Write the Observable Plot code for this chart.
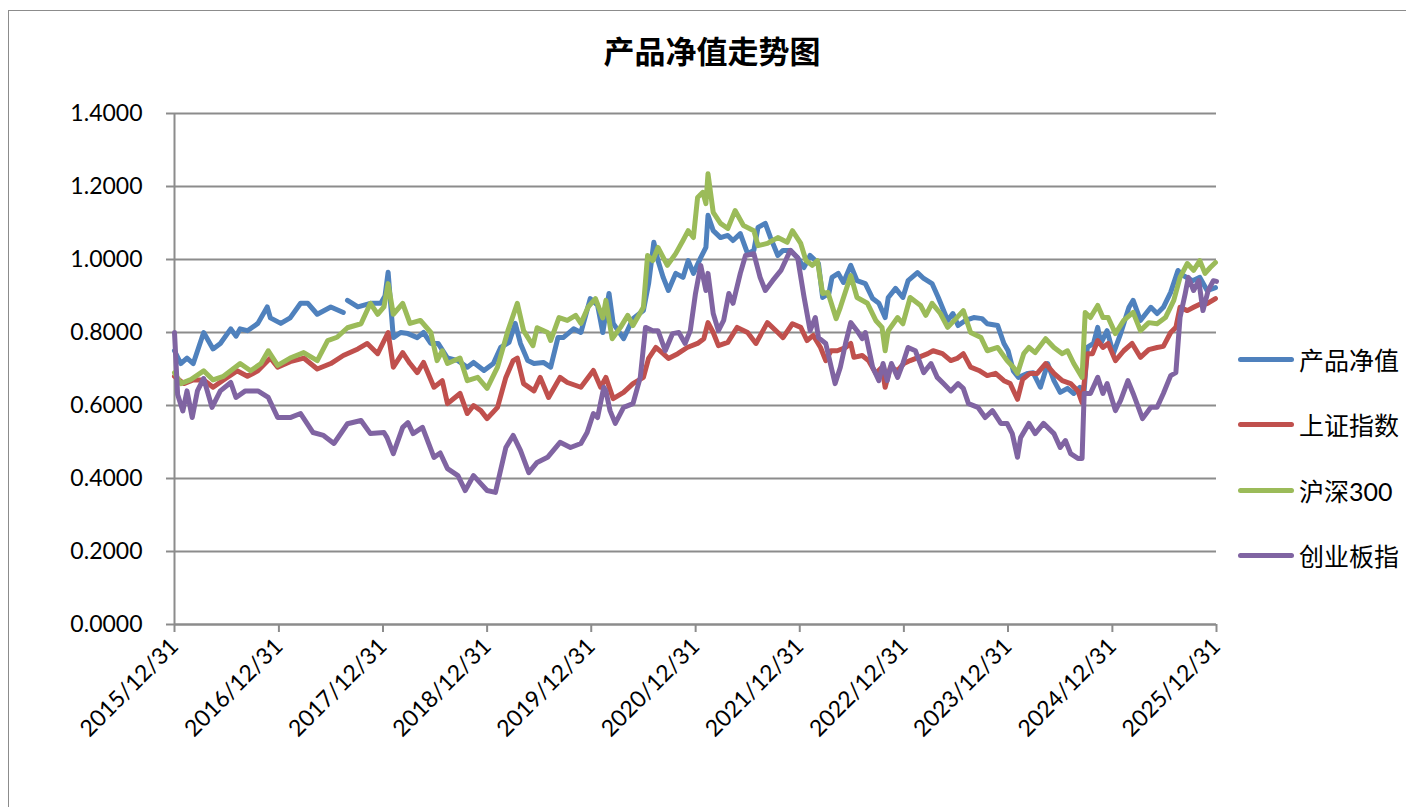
<!DOCTYPE html>
<html>
<head>
<meta charset="utf-8">
<script src="https://cdn.jsdelivr.net/npm/d3@7"></script>
<script src="https://cdn.jsdelivr.net/npm/@observablehq/plot@0.6"></script>
<style>
  html, body { margin: 0; padding: 0; background: #fff; overflow: hidden; }
  #wrap { position: relative; width: 1406px; height: 807px; overflow: hidden; }
  #frame { position: absolute; left: 8px; top: 10px; width: 1500px; height: 900px; border: 1.5px solid #8c8c8c; box-sizing: border-box; }
  #title { position: absolute; left: 0; top: 30px; width: 1424px; text-align: center; font-family: "Noto Sans CJK SC", sans-serif; font-size: 31px; font-weight: 700; color: #000; line-height: 40px; }
  #chart { position: absolute; left: 0; top: 0; }
  .legend { position: absolute; left: 1238px; font-family: Lato, "Noto Sans CJK SC", sans-serif; font-size: 25px; color: #000; }
  .item { position: absolute; left: 0; height: 36px; display: flex; align-items: center; white-space: nowrap; }
  .sw { width: 56px; height: 5px; border-radius: 3px; margin-right: 5px; }
</style>
</head>
<body>
<div id="wrap">
  <div id="frame"></div>
  <div id="chart"></div>
  <div id="title"></div>
  <div class="legend" id="legend"></div>
</div>
<script>
// ---- data (time as decimal year, 2016.00 = 2015/12/31, 2026.00 = 2025/12/31) ----
const title = "产品净值走势图";
const seriesNames = ["产品净值", "上证指数", "沪深300", "创业板指"];
const seriesColors = ["#4F81BD", "#C0504D", "#9BBB59", "#8064A2"];
const yTickValues = [0, 0.2, 0.4, 0.6, 0.8, 1.0, 1.2, 1.4];
const xTickYears = [2015, 2016, 2017, 2018, 2019, 2020, 2021, 2022, 2023, 2024, 2025];

const nav = [
[2016.00,0.75],[2016.06,0.715],[2016.12,0.73],[2016.18,0.715],[2016.28,0.80],[2016.37,0.755],[2016.44,0.77],[2016.54,0.81],[2016.59,0.79],[2016.63,0.81],[2016.70,0.805],[2016.80,0.825],[2016.89,0.87],[2016.92,0.84],[2017.02,0.825],[2017.11,0.84],[2017.21,0.88],[2017.28,0.88],[2017.37,0.85],[2017.50,0.87],[2017.62,0.855],[2017.64,null],[2017.66,0.888],[2017.76,0.87],[2017.88,0.88],[2017.98,0.88],[2018.02,0.90],[2018.05,0.965],[2018.10,0.786],[2018.17,0.80],[2018.24,0.797],[2018.33,0.786],[2018.39,0.80],[2018.46,0.77],[2018.53,0.77],[2018.62,0.73],[2018.72,0.723],[2018.81,0.705],[2018.87,0.718],[2018.97,0.696],[2019.06,0.715],[2019.13,0.759],[2019.21,0.773],[2019.27,0.825],[2019.32,0.77],[2019.39,0.723],[2019.45,0.715],[2019.54,0.718],[2019.61,0.705],[2019.68,0.786],[2019.73,0.786],[2019.83,0.81],[2019.90,0.80],[2019.99,0.893],[2020.06,0.875],[2020.11,0.80],[2020.17,0.907],[2020.21,0.825],[2020.31,0.783],[2020.40,0.838],[2020.50,0.86],[2020.55,0.934],[2020.60,1.047],[2020.64,0.997],[2020.69,0.951],[2020.74,0.915],[2020.81,0.962],[2020.88,0.951],[2020.93,0.997],[2020.98,0.962],[2021.05,1.005],[2021.10,1.033],[2021.12,1.121],[2021.17,1.079],[2021.24,1.06],[2021.31,1.066],[2021.36,1.052],[2021.43,1.071],[2021.50,1.016],[2021.56,1.025],[2021.60,1.088],[2021.67,1.099],[2021.72,1.06],[2021.79,1.011],[2021.84,1.025],[2021.91,1.025],[2021.98,1.005],[2022.04,0.978],[2022.10,1.011],[2022.18,0.989],[2022.22,0.896],[2022.28,0.907],[2022.31,0.951],[2022.37,0.962],[2022.42,0.937],[2022.49,0.984],[2022.55,0.942],[2022.63,0.934],[2022.70,0.893],[2022.76,0.88],[2022.82,0.841],[2022.85,0.896],[2022.92,0.921],[2022.99,0.896],[2023.04,0.942],[2023.13,0.964],[2023.19,0.948],[2023.27,0.934],[2023.33,0.896],[2023.42,0.833],[2023.47,0.852],[2023.52,0.819],[2023.59,0.833],[2023.67,0.841],[2023.75,0.838],[2023.80,0.824],[2023.90,0.819],[2023.96,0.77],[2024.00,0.75],[2024.05,0.695],[2024.10,0.677],[2024.19,0.688],[2024.24,0.69],[2024.31,0.65],[2024.38,0.715],[2024.44,0.668],[2024.50,0.636],[2024.57,0.647],[2024.63,0.633],[2024.69,0.65],[2024.73,0.64],[2024.76,0.759],[2024.82,0.77],[2024.86,0.814],[2024.89,0.77],[2024.95,0.805],[2025.01,0.742],[2025.08,0.797],[2025.16,0.869],[2025.20,0.888],[2025.27,0.833],[2025.37,0.869],[2025.43,0.852],[2025.49,0.869],[2025.56,0.91],[2025.63,0.97],[2025.68,0.956],[2025.77,0.942],[2025.84,0.951],[2025.91,0.915],[2025.99,0.923]
];

const sh = [
[2016.00,0.68],[2016.09,0.66],[2016.18,0.67],[2016.28,0.67],[2016.37,0.65],[2016.47,0.67],[2016.60,0.695],[2016.70,0.68],[2016.80,0.695],[2016.92,0.73],[2016.99,0.705],[2017.11,0.72],[2017.24,0.73],[2017.37,0.70],[2017.50,0.715],[2017.62,0.737],[2017.76,0.755],[2017.85,0.77],[2017.95,0.742],[2018.05,0.80],[2018.10,0.705],[2018.19,0.745],[2018.26,0.715],[2018.33,0.69],[2018.39,0.718],[2018.49,0.65],[2018.57,0.668],[2018.62,0.605],[2018.74,0.633],[2018.81,0.578],[2018.87,0.60],[2018.94,0.586],[2019.00,0.564],[2019.10,0.595],[2019.18,0.677],[2019.25,0.723],[2019.29,0.73],[2019.35,0.66],[2019.45,0.64],[2019.51,0.677],[2019.59,0.622],[2019.70,0.677],[2019.77,0.663],[2019.90,0.65],[2020.02,0.696],[2020.09,0.65],[2020.14,0.677],[2020.21,0.619],[2020.31,0.636],[2020.40,0.66],[2020.50,0.677],[2020.55,0.729],[2020.62,0.759],[2020.69,0.742],[2020.74,0.729],[2020.83,0.742],[2020.92,0.759],[2021.02,0.77],[2021.08,0.783],[2021.12,0.827],[2021.17,0.80],[2021.22,0.764],[2021.31,0.773],[2021.40,0.814],[2021.50,0.80],[2021.58,0.77],[2021.69,0.827],[2021.79,0.80],[2021.84,0.786],[2021.93,0.824],[2022.01,0.814],[2022.07,0.778],[2022.13,0.792],[2022.20,0.759],[2022.25,0.723],[2022.30,0.75],[2022.36,0.75],[2022.44,0.759],[2022.49,0.77],[2022.52,0.732],[2022.60,0.737],[2022.66,0.723],[2022.73,0.688],[2022.79,0.705],[2022.82,0.65],[2022.87,0.705],[2022.94,0.696],[2023.00,0.715],[2023.06,0.723],[2023.14,0.732],[2023.23,0.742],[2023.28,0.75],[2023.37,0.742],[2023.45,0.723],[2023.51,0.729],[2023.57,0.742],[2023.64,0.705],[2023.72,0.696],[2023.80,0.682],[2023.88,0.688],[2023.96,0.668],[2024.02,0.66],[2024.09,0.617],[2024.14,0.672],[2024.21,0.688],[2024.28,0.688],[2024.36,0.715],[2024.44,0.688],[2024.52,0.668],[2024.60,0.66],[2024.67,0.64],[2024.71,0.608],[2024.76,0.742],[2024.81,0.742],[2024.86,0.778],[2024.91,0.759],[2024.96,0.77],[2025.03,0.723],[2025.11,0.75],[2025.19,0.77],[2025.27,0.732],[2025.35,0.753],[2025.43,0.759],[2025.49,0.762],[2025.56,0.80],[2025.61,0.814],[2025.65,0.869],[2025.72,0.86],[2025.78,0.869],[2025.85,0.879],[2025.91,0.879],[2025.99,0.893]
];

const hs300 = [
[2016.00,0.69],[2016.06,0.66],[2016.15,0.67],[2016.28,0.695],[2016.37,0.67],[2016.47,0.68],[2016.63,0.715],[2016.73,0.695],[2016.83,0.715],[2016.90,0.75],[2016.99,0.71],[2017.11,0.73],[2017.24,0.745],[2017.37,0.723],[2017.47,0.778],[2017.56,0.787],[2017.66,0.813],[2017.79,0.824],[2017.88,0.88],[2017.95,0.85],[2018.01,0.87],[2018.05,0.934],[2018.10,0.85],[2018.19,0.88],[2018.26,0.825],[2018.36,0.833],[2018.46,0.80],[2018.52,0.723],[2018.57,0.75],[2018.62,0.715],[2018.74,0.73],[2018.81,0.668],[2018.91,0.677],[2019.00,0.647],[2019.10,0.705],[2019.20,0.805],[2019.29,0.88],[2019.35,0.805],[2019.44,0.764],[2019.48,0.813],[2019.58,0.80],[2019.61,0.778],[2019.69,0.841],[2019.77,0.833],[2019.85,0.847],[2019.90,0.825],[2019.97,0.87],[2020.04,0.893],[2020.11,0.84],[2020.14,0.888],[2020.20,0.783],[2020.28,0.814],[2020.35,0.847],[2020.40,0.819],[2020.50,0.869],[2020.54,1.011],[2020.59,0.997],[2020.64,1.033],[2020.73,0.984],[2020.81,1.016],[2020.88,1.052],[2020.93,1.079],[2020.98,1.06],[2021.02,1.17],[2021.07,1.184],[2021.10,1.153],[2021.12,1.235],[2021.17,1.129],[2021.24,1.099],[2021.31,1.085],[2021.38,1.134],[2021.46,1.093],[2021.56,1.079],[2021.60,1.038],[2021.69,1.044],[2021.79,1.06],[2021.88,1.047],[2021.93,1.079],[2022.01,1.044],[2022.06,0.997],[2022.12,0.984],[2022.17,0.997],[2022.22,0.907],[2022.27,0.91],[2022.35,0.838],[2022.39,0.869],[2022.49,0.956],[2022.55,0.896],[2022.65,0.88],[2022.73,0.833],[2022.79,0.814],[2022.82,0.75],[2022.85,0.805],[2022.94,0.841],[2022.99,0.824],[2023.06,0.896],[2023.16,0.874],[2023.21,0.847],[2023.27,0.88],[2023.35,0.852],[2023.42,0.814],[2023.50,0.838],[2023.57,0.86],[2023.64,0.80],[2023.74,0.786],[2023.80,0.75],[2023.90,0.759],[2023.99,0.723],[2024.05,0.705],[2024.09,0.688],[2024.15,0.742],[2024.20,0.759],[2024.26,0.745],[2024.36,0.783],[2024.44,0.759],[2024.52,0.742],[2024.57,0.75],[2024.63,0.715],[2024.71,0.677],[2024.74,0.855],[2024.79,0.841],[2024.86,0.874],[2024.91,0.841],[2024.96,0.841],[2025.03,0.797],[2025.11,0.833],[2025.20,0.855],[2025.27,0.805],[2025.35,0.827],[2025.43,0.824],[2025.51,0.841],[2025.59,0.888],[2025.65,0.951],[2025.72,0.989],[2025.78,0.97],[2025.84,0.997],[2025.89,0.962],[2025.94,0.978],[2025.99,0.992]
];

const cyb = [
[2016.00,0.80],[2016.03,0.63],[2016.08,0.585],[2016.12,0.64],[2016.17,0.567],[2016.22,0.64],[2016.28,0.674],[2016.36,0.595],[2016.44,0.64],[2016.54,0.663],[2016.59,0.622],[2016.68,0.64],[2016.80,0.64],[2016.90,0.622],[2016.99,0.567],[2017.11,0.567],[2017.21,0.578],[2017.33,0.526],[2017.43,0.518],[2017.53,0.496],[2017.66,0.55],[2017.79,0.559],[2017.88,0.523],[2018.01,0.526],[2018.04,0.512],[2018.10,0.468],[2018.19,0.54],[2018.24,0.553],[2018.29,0.523],[2018.38,0.54],[2018.49,0.458],[2018.55,0.47],[2018.62,0.427],[2018.72,0.408],[2018.79,0.367],[2018.87,0.408],[2018.94,0.386],[2019.00,0.367],[2019.08,0.362],[2019.18,0.485],[2019.25,0.518],[2019.32,0.477],[2019.40,0.416],[2019.48,0.444],[2019.58,0.458],[2019.70,0.499],[2019.80,0.485],[2019.90,0.496],[2019.96,0.526],[2020.02,0.578],[2020.06,0.567],[2020.12,0.65],[2020.14,0.64],[2020.18,0.586],[2020.23,0.551],[2020.31,0.595],[2020.40,0.605],[2020.47,0.677],[2020.52,0.814],[2020.59,0.805],[2020.64,0.805],[2020.71,0.75],[2020.78,0.797],[2020.84,0.80],[2020.90,0.77],[2020.95,0.805],[2021.00,0.907],[2021.05,0.984],[2021.10,0.915],[2021.12,0.962],[2021.17,0.852],[2021.22,0.805],[2021.27,0.833],[2021.32,0.907],[2021.36,0.88],[2021.43,0.962],[2021.48,1.011],[2021.56,1.016],[2021.62,0.951],[2021.67,0.915],[2021.74,0.942],[2021.82,0.97],[2021.91,1.025],[2021.98,1.005],[2022.04,0.90],[2022.10,0.805],[2022.15,0.841],[2022.18,0.786],[2022.25,0.77],[2022.31,0.696],[2022.34,0.66],[2022.39,0.705],[2022.44,0.77],[2022.49,0.827],[2022.55,0.805],[2022.60,0.783],[2022.63,0.80],[2022.70,0.705],[2022.76,0.668],[2022.80,0.715],[2022.84,0.668],[2022.88,0.715],[2022.94,0.677],[2022.99,0.715],[2023.04,0.759],[2023.11,0.75],[2023.19,0.69],[2023.26,0.715],[2023.32,0.677],[2023.38,0.66],[2023.45,0.64],[2023.52,0.66],[2023.57,0.647],[2023.62,0.605],[2023.71,0.595],[2023.78,0.567],[2023.85,0.586],[2023.93,0.551],[2023.99,0.551],[2024.04,0.523],[2024.09,0.458],[2024.12,0.512],[2024.20,0.551],[2024.26,0.523],[2024.34,0.551],[2024.44,0.523],[2024.50,0.485],[2024.55,0.504],[2024.60,0.468],[2024.67,0.455],[2024.71,0.455],[2024.73,0.633],[2024.79,0.633],[2024.86,0.677],[2024.91,0.633],[2024.95,0.66],[2025.03,0.586],[2025.08,0.614],[2025.15,0.668],[2025.20,0.633],[2025.29,0.564],[2025.37,0.595],[2025.43,0.595],[2025.49,0.633],[2025.56,0.682],[2025.61,0.69],[2025.65,0.841],[2025.70,0.907],[2025.73,0.951],[2025.78,0.915],[2025.83,0.942],[2025.87,0.86],[2025.92,0.915],[2025.97,0.942],[2026.00,0.94]
];

// ---- build ----
const t0 = Date.UTC(2015, 11, 31), t1 = Date.UTC(2025, 11, 31);
const toDate = t => new Date(t0 + (t - 2016) * (t1 - t0) / 10);
const allSeries = [nav, sh, hs300, cyb];
const xTicks = xTickYears.map(y => new Date(Date.UTC(y, 11, 31)));
const fmtDate = d3.utcFormat("%Y/%m/%d");

const lineMarks = allSeries.map((s, i) =>
  Plot.line(s.map(([t, v]) => ({date: toDate(t), value: v})), {
    x: "date", y: "value", stroke: seriesColors[i], strokeWidth: 5,
    strokeLinejoin: "round", strokeLinecap: "round"
  })
);

const chart = Plot.plot({
  width: 1406,
  height: 807,
  marginLeft: 174,
  marginRight: 190,
  marginTop: 113,
  marginBottom: 183,
  style: {fontFamily: "Lato, sans-serif", fontSize: "23px", color: "#000", background: "transparent", overflow: "visible"},
  x: {type: "utc", domain: [new Date(t0), new Date(t1)]},
  y: {domain: [0, 1.4]},
  marks: [
    Plot.gridY(yTickValues, {stroke: "#8c8c8c", strokeOpacity: 1, strokeWidth: 2}),
    Plot.ruleX([new Date(t0)], {stroke: "#8c8c8c", strokeWidth: 2}),
    Plot.ruleY([0], {stroke: "#8c8c8c", strokeWidth: 2}),
    Plot.axisY(yTickValues, {tickFormat: d3.format(".4f"), tickSize: 8, tickPadding: 24, stroke: "#8c8c8c", strokeWidth: 2, fill: "#000", label: null, fontSize: 23}),
    Plot.axisX(xTicks, {tickFormat: fmtDate, tickSize: 8, tickPadding: 10, tickRotate: -45, stroke: "#8c8c8c", strokeWidth: 2, fill: "#000", label: null, fontSize: 23}),
    ...lineMarks
  ]
});
document.getElementById("chart").appendChild(chart);

document.getElementById("title").textContent = title;
const legend = document.getElementById("legend");
const legendTops = [341, 406, 472, 537];
seriesNames.forEach((name, i) => {
  const item = document.createElement("div");
  item.className = "item";
  item.style.top = legendTops[i] + "px";
  const sw = document.createElement("div");
  sw.className = "sw";
  sw.style.background = seriesColors[i];
  const label = document.createElement("span");
  label.textContent = name;
  item.appendChild(sw);
  item.appendChild(label);
  legend.appendChild(item);
});
</script>
</body>
</html>
